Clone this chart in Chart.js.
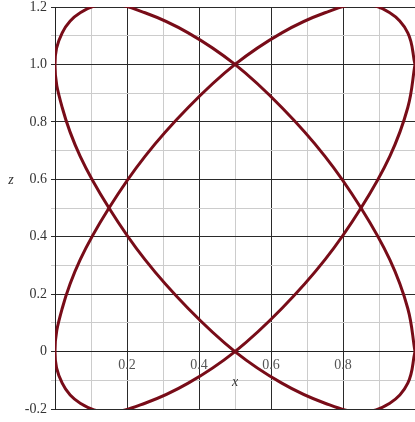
<!DOCTYPE html>
<html>
<head>
<meta charset="utf-8">
<script src="https://cdn.jsdelivr.net/npm/chart.js@4/dist/chart.umd.min.js"></script>
<style>
  html, body { margin: 0; padding: 0; background: #fff; }
  #wrap { width: 415px; height: 422px; }
</style>
</head>
<body>
<div id="wrap"><canvas id="curveChart"></canvas></div>
<script>
// points, going round each loop
var xVals = [1.00, 0.98, 0.93, 0.85, 0.75, 0.63, 0.50, 0.37, 0.25, 0.15, 0.07, 0.02, 0.00,
             0.02, 0.07, 0.15, 0.25, 0.37, 0.50, 0.63, 0.75, 0.85, 0.93, 0.98, 1.00];
var zRise = [1.00, 1.11, 1.18, 1.21, 1.18, 1.11, 1.00, 0.85, 0.68, 0.50, 0.32, 0.15, 0.00,
             -0.11, -0.18, -0.21, -0.18, -0.11, 0.00, 0.15, 0.32, 0.50, 0.68, 0.85, 1.00];
var zFall = [0.00, -0.11, -0.18, -0.21, -0.18, -0.11, 0.00, 0.15, 0.32, 0.50, 0.68, 0.85, 1.00,
             1.11, 1.18, 1.21, 1.18, 1.11, 1.00, 0.85, 0.68, 0.50, 0.32, 0.15, 0.00];
var xTickLabels = ['0.2', '0.4', '0.6', '0.8'];
var zTickLabels = ['-0.2', '0', '0.2', '0.4', '0.6', '0.8', '1.0', '1.2'];

function pts(zs) {
    return xVals.map(function (x, i) { return { x: x, y: zs[i] }; });
}

function isMajor(v) {
    return Math.abs(Math.round(v * 10)) % 2 === 0;
}

function labelFor(list, v) {
    var s = Math.abs(v) < 1e-9 ? '0' : v.toFixed(1);
    return list.indexOf(s) >= 0 ? s : '';
}

var curveColor = '#780c18';

// axis names sit upright, the way the picture has them
var axisNames = {
    id: 'axisNames',
    afterDraw: function (chart) {
        var c = chart.ctx, xs = chart.scales.x, ys = chart.scales.y;
        c.save();
        c.fillStyle = '#333';
        c.font = 'italic 14px "Liberation Serif"';
        c.textAlign = 'center';
        c.textBaseline = 'middle';
        c.fillText('x', xs.getPixelForValue(0.5), ys.getPixelForValue(0) + 31);
        c.fillText('z', 11, ys.getPixelForValue(0.6) + 1);
        c.restore();
    }
};

var ctx = document.getElementById('curveChart').getContext('2d');
var myChart = new Chart(ctx, {
    type: 'scatter',
    data: {
        datasets: [{
            label: 'rise',
            data: pts(zRise),
            showLine: true,
            borderColor: curveColor,
            borderWidth: 3,
            pointRadius: 0,
            tension: 0.4
        }, {
            label: 'fall',
            data: pts(zFall),
            showLine: true,
            borderColor: curveColor,
            borderWidth: 3,
            pointRadius: 0,
            tension: 0.4
        }]
    },
    options: {
        responsive: true,
        maintainAspectRatio: false,
        animation: false,
        layout: { padding: { top: 7, bottom: 13, left: 0, right: 0 } },
        plugins: {
            legend: { display: false },
            tooltip: { enabled: false }
        },
        scales: {
            x: {
                type: 'linear',
                position: { y: 0 },
                min: 0,
                max: 1,
                afterFit: function (s) { s.paddingLeft = 0; s.paddingRight = 0; },
                border: { color: '#222', width: 1 },
                grid: {
                    color: function (c) { return isMajor(c.tick.value) ? '#2a2a2a' : '#cccccc'; },
                    lineWidth: 1,
                    tickLength: 4
                },
                ticks: {
                    stepSize: 0.1,
                    autoSkip: false,
                    maxRotation: 0,
                    padding: 1,
                    color: '#555',
                    font: { family: 'Liberation Serif', size: 14 },
                    callback: function (v) { return labelFor(xTickLabels, v); }
                }
            },
            y: {
                type: 'linear',
                position: 'left',
                min: -0.2,
                max: 1.2,
                afterFit: function (s) { s.width = 55; s.paddingTop = 0; s.paddingBottom = 0; },
                border: { color: '#222', width: 1 },
                grid: {
                    color: function (c) { return isMajor(c.tick.value) ? '#2a2a2a' : '#cccccc'; },
                    lineWidth: 1,
                    tickLength: 4
                },
                ticks: {
                    stepSize: 0.1,
                    autoSkip: false,
                    padding: 4,
                    color: '#333',
                    font: { family: 'Liberation Serif', size: 14 },
                    callback: function (v) { return labelFor(zTickLabels, v); }
                }
            }
        }
    },
    plugins: [axisNames]
});
</script>
</body>
</html>
